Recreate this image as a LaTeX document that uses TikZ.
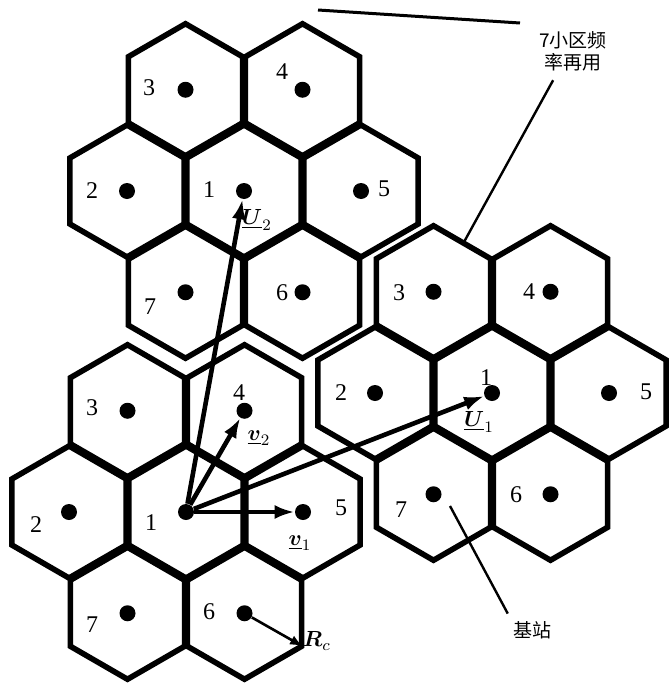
\documentclass[tikz,border=0pt]{standalone}
\usepackage{fontspec}
\setmainfont{Liberation Serif}
\newfontfamily\cjk{Noto Sans CJK SC}
\usepackage{amsmath}
\usetikzlibrary{arrows.meta,calc}

\begin{document}
\begin{tikzpicture}[x=0.5pt,y=-0.5pt,
  site/.style={circle,fill=black,inner sep=0pt,minimum size=8pt},
  num/.style={font=\fontsize{12}{14}\selectfont,inner sep=1pt},
  cell/.style={line width=2.8pt,line join=miter},
  vec/.style={line width=2.3pt,-{Latex[length=10pt,width=7pt]}},
  rvec/.style={line width=1.3pt,-{Latex[length=6.5pt,width=5pt]}},
  lead/.style={line width=1.2pt},
  note/.style={font=\cjk\fontsize{9.5}{11}\selectfont,align=center,inner sep=1pt},
  vlab/.style={font=\fontsize{11}{13}\selectfont,inner sep=1pt},
]
\useasboundingbox (0,0) rectangle (669,685);
% cluster A (top)
\node[site] (A1) at (244,191) {};
\node[site] (A2) at (127,191) {};
\node[site] (A3) at (185.5,89.75) {};
\node[site] (A4) at (302.5,89.75) {};
\node[site] (A5) at (361,191) {};
\node[site] (A6) at (302.5,292.25) {};
\node[site] (A7) at (185.5,292.25) {};
% cluster B (bottom left)
\node[site] (B1) at (186,512) {};
\node[site] (B2) at (69,512) {};
\node[site] (B3) at (127.5,410.75) {};
\node[site] (B4) at (244.5,410.75) {};
\node[site] (B5) at (303,512) {};
\node[site] (B6) at (244.5,613.25) {};
\node[site] (B7) at (127.5,613.25) {};
% cluster C (right)
\node[site] (C1) at (492,393) {};
\node[site] (C2) at (375,393) {};
\node[site] (C3) at (433.5,291.75) {};
\node[site] (C4) at (550.5,291.75) {};
\node[site] (C5) at (609,393) {};
\node[site] (C6) at (550.5,494.25) {};
\node[site] (C7) at (433.5,494.25) {};

\node[num] (A1n) at (209,190) {1};
\node[num] (A2n) at (92,191) {2};
\node[num] (A3n) at (149,88) {3};
\node[num] (A4n) at (282,72) {4};
\node[num] (A5n) at (384,189) {5};
\node[num] (A6n) at (282,293) {6};
\node[num] (A7n) at (150,307) {7};
\node[num] (B1n) at (151,523) {1};
\node[num] (B2n) at (36,525) {2};
\node[num] (B3n) at (92,408) {3};
\node[num] (B4n) at (239,393) {4};
\node[num] (B5n) at (341,508) {5};
\node[num] (B6n) at (209,612) {6};
\node[num] (B7n) at (92,625) {7};
\node[num] (C1n) at (486,378) {1};
\node[num] (C2n) at (341,393) {2};
\node[num] (C3n) at (399,293) {3};
\node[num] (C4n) at (529,292) {4};
\node[num] (C5n) at (646,392) {5};
\node[num] (C6n) at (516,495) {6};
\node[num] (C7n) at (401,510) {7};

\foreach \c in {A1,A2,A3,A4,A5,A6,A7,B1,B2,B3,B4,B5,B6,B7,C1,C2,C3,C4,C5,C6,C7}
  \draw[cell] (\c.center) +(90:66) -- +(150:66) -- +(210:66) -- +(270:66)
    -- +(330:66) -- +(30:66) -- cycle;

% reuse vectors
\draw[vec] (B1) -- (A1);
\draw[vec] (B1) -- (C1);
\draw[vec] (B1) -- (B4);
\draw[vec] (B1) -- (B5);
\node[vlab] (U2) at (257,220) {$\underline{\boldsymbol{U}}_2$};
\node[vlab] (U1) at (479,422) {$\underline{\boldsymbol{U}}_1$};
\node[vlab] (v2) at (259,438) {$\underline{\boldsymbol{v}}_2$};
\node[vlab] (v1) at (300,543) {$\underline{\boldsymbol{v}}_1$};

\coordinate (B6v) at (303,646.5);
\draw[rvec] (B6) -- (B6v);
\node[vlab] (Rc) at (317,641) {$\boldsymbol{R}_c$};

% notes
\node[note] (reuse) at (573,51) {7小区频\\率再用};
\coordinate (reusetip) at (464,242);
\draw[lead,shorten <=4pt] ([xshift=-8pt]reuse.south) -- (reusetip);
\node[note] (bsn) at (532,630) {基站};
\coordinate (bstip) at (450,506);
\draw[lead,shorten <=3pt] (bsn.north west) -- (bstip);

\draw[line width=1.5pt] (318,10) -- (520,23);
\end{tikzpicture}
\end{document}
